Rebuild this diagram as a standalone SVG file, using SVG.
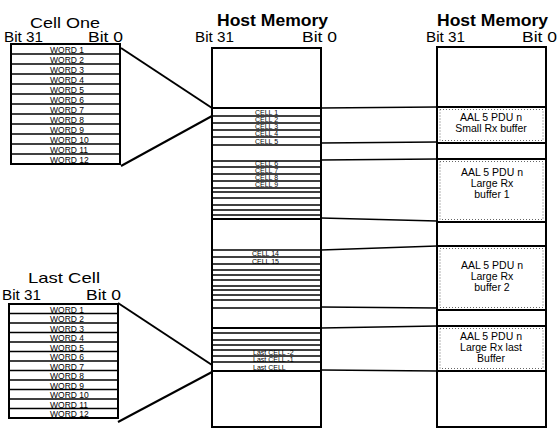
<svg xmlns="http://www.w3.org/2000/svg" width="560" height="429" viewBox="0 0 560 429">
<style>
.t{font-family:"Liberation Sans",Arial,sans-serif;fill:#000}
.hd{font-size:15px}
.hb{font-size:16px;font-weight:bold}
.w{font-size:8.5px}
.c{font-size:7px}
.a{font-size:10.5px;text-anchor:middle}
.box{fill:#fff;stroke:#000;stroke-width:2}
.row{stroke:#000;stroke-width:1.3}
.thick{stroke:#000;stroke-width:2}
.dot{fill:none;stroke:#666;stroke-width:1;stroke-dasharray:1 2}
.con{stroke:#000;stroke-width:2;fill:none}
.con1{stroke:#000;stroke-width:1.5;fill:none}
</style>

<g id="labels">
<text class="t hd" x="30" y="28" textLength="70" lengthAdjust="spacingAndGlyphs">Cell One</text>
<text class="t hd" x="4" y="42" textLength="39" lengthAdjust="spacingAndGlyphs">Bit 31</text>
<text class="t hd" x="88" y="42" textLength="35" lengthAdjust="spacingAndGlyphs">Bit 0</text>
<text class="t hd" x="28" y="283" textLength="72" lengthAdjust="spacingAndGlyphs">Last Cell</text>
<text class="t hd" x="2" y="300" textLength="39" lengthAdjust="spacingAndGlyphs">Bit 31</text>
<text class="t hd" x="86" y="300" textLength="35" lengthAdjust="spacingAndGlyphs">Bit 0</text>
<text class="t hb" x="217" y="26" textLength="111" lengthAdjust="spacingAndGlyphs">Host Memory</text>
<text class="t hd" x="195" y="42" textLength="39" lengthAdjust="spacingAndGlyphs">Bit 31</text>
<text class="t hd" x="302" y="42" textLength="35" lengthAdjust="spacingAndGlyphs">Bit 0</text>
<text class="t hb" x="437" y="26" textLength="111" lengthAdjust="spacingAndGlyphs">Host Memory</text>
<text class="t hd" x="426" y="42" textLength="39" lengthAdjust="spacingAndGlyphs">Bit 31</text>
<text class="t hd" x="522" y="42" textLength="35" lengthAdjust="spacingAndGlyphs">Bit 0</text>
</g>

<g id="cell-one">
<rect class="box" x="11" y="44" width="109" height="120"/>
<g class="row">
<line x1="11" y1="54" x2="120" y2="54"/><line x1="11" y1="64" x2="120" y2="64"/>
<line x1="11" y1="74" x2="120" y2="74"/><line x1="11" y1="84" x2="120" y2="84"/>
<line x1="11" y1="94" x2="120" y2="94"/><line x1="11" y1="104" x2="120" y2="104"/>
<line x1="11" y1="114" x2="120" y2="114"/><line x1="11" y1="124" x2="120" y2="124"/>
<line x1="11" y1="134" x2="120" y2="134"/><line x1="11" y1="144" x2="120" y2="144"/>
<line x1="11" y1="154" x2="120" y2="154"/>
</g>
<g class="t w">
<text x="50" y="53">WORD 1</text><text x="50" y="63">WORD 2</text>
<text x="50" y="73">WORD 3</text><text x="50" y="83">WORD 4</text>
<text x="50" y="93">WORD 5</text><text x="50" y="103">WORD 6</text>
<text x="50" y="113">WORD 7</text><text x="50" y="123">WORD 8</text>
<text x="50" y="133">WORD 9</text><text x="50" y="143">WORD 10</text>
<text x="50" y="153">WORD 11</text><text x="50" y="163">WORD 12</text>
</g>
</g>

<g id="last-cell">
<rect class="box" x="9" y="304" width="109" height="114"/>
<g class="row">
<line x1="9" y1="313.5" x2="118" y2="313.5"/><line x1="9" y1="323" x2="118" y2="323"/>
<line x1="9" y1="332.5" x2="118" y2="332.5"/><line x1="9" y1="342" x2="118" y2="342"/>
<line x1="9" y1="351.5" x2="118" y2="351.5"/><line x1="9" y1="361" x2="118" y2="361"/>
<line x1="9" y1="370.5" x2="118" y2="370.5"/><line x1="9" y1="380" x2="118" y2="380"/>
<line x1="9" y1="389.5" x2="118" y2="389.5"/><line x1="9" y1="399" x2="118" y2="399"/>
<line x1="9" y1="408.5" x2="118" y2="408.5"/>
</g>
<g class="t w">
<text x="50" y="312.5">WORD 1</text><text x="50" y="322">WORD 2</text>
<text x="50" y="331.5">WORD 3</text><text x="50" y="341">WORD 4</text>
<text x="50" y="350.5">WORD 5</text><text x="50" y="360">WORD 6</text>
<text x="50" y="369.5">WORD 7</text><text x="50" y="379">WORD 8</text>
<text x="50" y="388.5">WORD 9</text><text x="50" y="398">WORD 10</text>
<text x="50" y="407.5">WORD 11</text><text x="50" y="417">WORD 12</text>
</g>
</g>

<g id="host-memory-cells">
<rect class="box" x="212" y="48" width="109" height="379"/>
<g class="row">
<line x1="212" y1="116" x2="321" y2="116"/><line x1="212" y1="123" x2="321" y2="123"/>
<line x1="212" y1="130" x2="321" y2="130"/><line x1="212" y1="137" x2="321" y2="137"/>
<line x1="212" y1="145" x2="321" y2="145"/>
<line x1="212" y1="161" x2="321" y2="161"/><line x1="212" y1="167" x2="321" y2="167"/>
<line x1="212" y1="174" x2="321" y2="174"/><line x1="212" y1="181" x2="321" y2="181"/>
<line x1="212" y1="188" x2="321" y2="188"/><line x1="212" y1="192" x2="321" y2="192"/>
<line x1="212" y1="198" x2="321" y2="198"/><line x1="212" y1="205" x2="321" y2="205"/>
<line x1="212" y1="210" x2="321" y2="210"/><line x1="212" y1="215" x2="321" y2="215"/>
<line x1="212" y1="250" x2="321" y2="250"/><line x1="212" y1="257" x2="321" y2="257"/>
<line x1="212" y1="264" x2="321" y2="264"/><line x1="212" y1="270" x2="321" y2="270"/>
<line x1="212" y1="275" x2="321" y2="275"/><line x1="212" y1="280" x2="321" y2="280"/>
<line x1="212" y1="286" x2="321" y2="286"/><line x1="212" y1="290" x2="321" y2="290"/>
<line x1="212" y1="295" x2="321" y2="295"/><line x1="212" y1="300" x2="321" y2="300"/>
<line x1="212" y1="308" x2="321" y2="308"/>
<line x1="212" y1="333" x2="321" y2="333"/><line x1="212" y1="340" x2="321" y2="340"/>
<line x1="212" y1="345" x2="321" y2="345"/><line x1="212" y1="350" x2="321" y2="350"/>
<line x1="212" y1="356" x2="321" y2="356"/><line x1="212" y1="362" x2="321" y2="362"/>
</g>
<g class="thick">
<line x1="212" y1="108" x2="321" y2="108"/><line x1="212" y1="219" x2="321" y2="219"/>
<line x1="212" y1="328" x2="321" y2="328"/><line x1="212" y1="371" x2="321" y2="371"/>
</g>
<g class="t c">
<text x="255" y="114.5">CELL 1</text><text x="255" y="122">CELL 2</text>
<text x="255" y="129">CELL 3</text><text x="255" y="136">CELL 4</text>
<text x="255" y="143.5">CELL 5</text>
<text x="255" y="166">CELL 6</text><text x="255" y="173">CELL 7</text>
<text x="255" y="180">CELL 8</text><text x="255" y="187">CELL 9</text>
<text x="252" y="256">CELL 14</text><text x="252" y="263.5">CELL 15</text>
<text x="253" y="355">Last CELL -2</text><text x="253" y="361.5">Last CELL -1</text>
<text x="253" y="369.5">Last CELL</text>
</g>
</g>

<g id="host-memory-buffers">
<rect class="box" x="437" y="47" width="109" height="380"/>
<g class="thick">
<line x1="437" y1="107" x2="546" y2="107"/><line x1="437" y1="143" x2="546" y2="143"/>
<line x1="437" y1="159" x2="546" y2="159"/><line x1="437" y1="222" x2="546" y2="222"/>
<line x1="437" y1="246" x2="546" y2="246"/><line x1="437" y1="310" x2="546" y2="310"/>
<line x1="437" y1="326" x2="546" y2="326"/><line x1="437" y1="371" x2="546" y2="371"/>
</g>
<g id="buf-small">
<rect class="dot" x="440" y="109.5" width="103" height="31"/>
<text class="t a" x="491" y="121">AAL 5 PDU n</text>
<text class="t a" x="491" y="132">Small Rx buffer</text>
</g>
<g id="buf-large-1">
<rect class="dot" x="440" y="161.5" width="103" height="58"/>
<text class="t a" x="492" y="176">AAL 5 PDU n</text>
<text class="t a" x="492" y="187">Large Rx</text>
<text class="t a" x="492" y="198">buffer 1</text>
</g>
<g id="buf-large-2">
<rect class="dot" x="440" y="248.5" width="103" height="59"/>
<text class="t a" x="492" y="269">AAL 5 PDU n</text>
<text class="t a" x="492" y="280">Large Rx</text>
<text class="t a" x="492" y="291">buffer 2</text>
</g>
<g id="buf-large-last">
<rect class="dot" x="440" y="328.5" width="103" height="40"/>
<text class="t a" x="491" y="340">AAL 5 PDU n</text>
<text class="t a" x="491" y="351">Large Rx last</text>
<text class="t a" x="491" y="362">Buffer</text>
</g>
</g>

<g id="connectors">
<line class="con" x1="121" y1="48" x2="212" y2="108"/>
<line class="con" x1="121" y1="166" x2="212" y2="116"/>
<line class="con" x1="118" y1="303" x2="212" y2="365"/>
<line class="con" x1="118" y1="422" x2="212" y2="372"/>
<line class="con1" x1="321" y1="108" x2="437" y2="107"/>
<line class="con1" x1="321" y1="143" x2="437" y2="142"/>
<line class="con1" x1="321" y1="160" x2="437" y2="159"/>
<line class="con1" x1="321" y1="218" x2="437" y2="221"/>
<line class="con1" x1="321" y1="250" x2="437" y2="246"/>
<line class="con1" x1="321" y1="307" x2="437" y2="308"/>
<line class="con1" x1="321" y1="328" x2="437" y2="326"/>
<line class="con1" x1="321" y1="370" x2="437" y2="371"/>
</g>
</svg>
